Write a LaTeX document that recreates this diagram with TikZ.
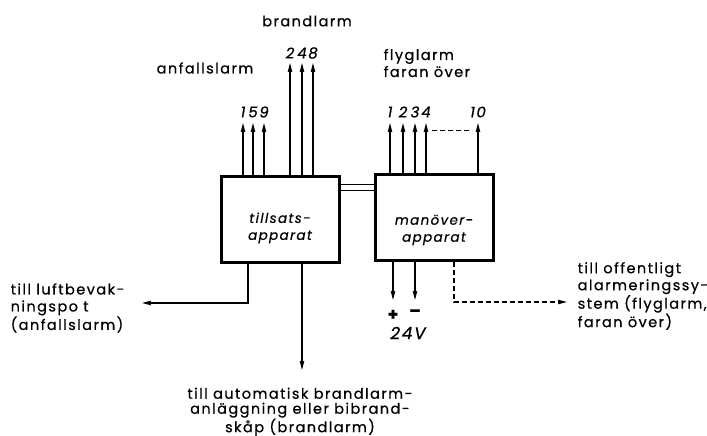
\documentclass[tikz,border=0pt]{standalone}
\usepackage{fontspec}
\setmainfont{Poppins}[FakeBold=0.6, LetterSpace=10]
\usetikzlibrary{arrows.meta}

\begin{document}
\begin{tikzpicture}[
  x=1pt, y=-1pt,
  line width=1.4pt,
  sig/.style={-{Stealth[length=9pt,width=4.5pt,inset=1pt]}},
  streck/.style={dash pattern=on 5pt off 3pt},
  apparat/.style={draw, line width=3pt, minimum width=118pt, minimum height=86pt},
  every node/.style={inner sep=0pt},
  boxtxt/.style={align=center, font=\itshape\fontsize{13.5pt}{17pt}\selectfont},
  txt/.style={font=\fontsize{14.5pt}{17pt}\selectfont},
  num/.style={font=\itshape\fontsize{15pt}{15pt}\selectfont}
]
  \useasboundingbox (0,0) rectangle (707,436);
  % ---- apparater ----
  \node[apparat] (tillsats) at (280,219) {};
  \node[apparat] (manover)  at (434,217) {};
  \node[boxtxt] (tillsatstxt) at ([yshift=-9pt]tillsats.center) {tillsats-\\apparat};
  \node[boxtxt] (manovertxt)  at ([yshift=-13pt]manover.center) {manöver-\\apparat};
  % ---- koppling mellan apparaterna ----
  \coordinate (kopp) at (357,187.5);
  \draw[double, double distance=5pt, line width=1.2pt] (tillsats.east |- kopp) -- (manover.west |- kopp);
  % ---- utgångar uppåt: anfallslarm 1 5 9 ----
  \foreach \n/\x in {1/243,5/253,9/264} {
    \coordinate (a\n) at (\x,123);
    \draw[sig] (tillsats.north -| a\n) -- (a\n);
    \node[num] (na\n) at (\x,112) {\n};
  }
  % ---- utgångar uppåt: brandlarm 2 4 8 ----
  \foreach \n/\x in {2/290,4/302,8/313} {
    \coordinate (b\n) at (\x,63);
    \draw[sig] (tillsats.north -| b\n) -- (b\n);
    \node[num] (nb\n) at (\x,53) {\n};
  }
  % ---- utgångar uppåt: flyglarm 1 2 3 4 ... 10 ----
  \foreach \n/\x in {1/390,2/403,3/415,4/426,10/478} {
    \coordinate (m\n) at (\x,123);
    \draw[sig] (manover.north -| m\n) -- (m\n);
    \node[num] (nm\n) at (\x,112) {\n};
  }
  \draw[streck, line width=1pt] ([shift={(6,7)}]m4) -- ([shift={(-6,7)}]m10);
  % ---- rubriker ----
  \node[txt] (anfall) at (205,68) {anfallslarm};
  \node[txt] (brand)  at (307,21) {brandlarm};
  \node[txt, align=left, anchor=west] (flyg) at (383,63) {flyglarm\\faran över};
  % ---- utgångar nedåt från tillsatsapparaten ----
  \coordinate (lk) at (248,303);
  \coordinate (lt) at (142,303);
  \draw[sig] (tillsats.south -| lk) -- (lk) -- (lt);
  \node[txt, align=left, anchor=west] (luft) at (10,308) {till luftbevak-\\ningspo t\\(anfallslarm)};
  \coordinate (bt) at (302,370);
  \draw[sig] (tillsats.south -| bt) -- (bt);
  \node[txt, align=center, anchor=north, font=\fontsize{14.5pt}{15pt}\selectfont] (auto) at (300,387)
    {till automatisk brandlarm-\\anläggning eller bibrand-\\skåp (brandlarm)};
  % ---- matning 24 V ----
  \coordinate (plus)  at (393,300);
  \coordinate (minus) at (415,300);
  \draw[sig] (manover.south -| plus) -- (plus);
  \draw[sig] (manover.south -| minus) -- (minus);
  \node[num, font=\bfseries\fontsize{17pt}{17pt}\selectfont] (pl) at (393,315) {+};
  \node[num, font=\bfseries\fontsize{17pt}{17pt}\selectfont] (mi) at (415,313) {--};
  \node[num, font=\itshape\fontsize{17pt}{17pt}\selectfont] (volt) at (408,333) {24V};
  % ---- offentligt alarmeringssystem ----
  \coordinate (dk) at (454,302);
  \coordinate (dt) at (567,302);
  \draw[sig, streck] (manover.south -| dk) -- (dk) -- (dt);
  \node[txt, align=left, anchor=west] (offentl) at (577,296)
    {till offentligt\\alarmeringssy-\\stem (flyglarm,\\faran över)};
\end{tikzpicture}
\end{document}
